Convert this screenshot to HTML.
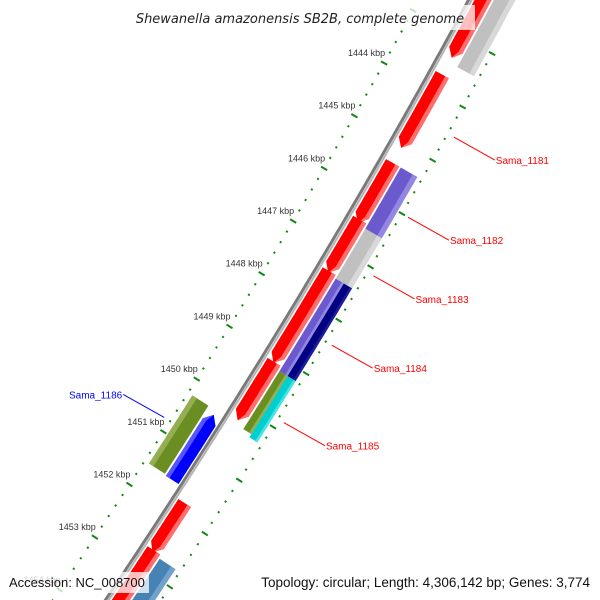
<!DOCTYPE html>
<html><head><meta charset="utf-8"><style>
html,body{margin:0;padding:0;background:#fff;width:600px;height:600px;overflow:hidden;}
svg{display:block;font-family:"Liberation Sans","DejaVu Sans",sans-serif;overflow:hidden;}
</style></head><body>
<svg id="map" width="600" height="600" viewBox="0 0 600 600" xmlns="http://www.w3.org/2000/svg">
<defs><clipPath id="clip"><rect width="600" height="600"/></clipPath></defs>
<rect width="600" height="600" fill="#fff"/>
<g clip-path="url(#clip)">
<g id="ticks"></g>
<g id="feats"></g>
<g id="labels"></g>
</g>
<rect x="125" y="5" width="350" height="25" fill="#fff" fill-opacity="0.75"/>
<text x="300" y="23" text-anchor="middle" font-size="13" font-style="italic" fill="#222" style="font-family:'DejaVu Sans',sans-serif">Shewanella amazonensis SB2B, complete genome</text>
<rect x="3" y="572" width="146" height="21" fill="#fff" fill-opacity="0.75"/>
<text x="9" y="587" font-size="13" fill="#111">Accession: NC_008700</text>
<text x="590" y="587" text-anchor="end" font-size="13.5" fill="#111">Topology: circular; Length: 4,306,142 bp; Genes: 3,774</text>
</svg>
<script>
// data (kbp)
const featStart=[1442.0,1443.70,1445.36,1446.43,1447.40,1449.11,1451.77,1452.66, 1442.0,1445.36,1446.51,1447.45,1447.45,1449.19,1449.19,1452.72, 1450.34,1450.26];
const featEnd  =[1443.38,1445.08,1446.49,1447.43,1449.13,1450.21,1452.70,1453.98, 1443.47,1446.51,1447.45,1449.19,1449.19,1450.28,1450.34,1453.80, 1451.57,1451.55];
const featRow  =["r1","r1","r1","r1","r1","r1","r1","r1", "r2","r2","r2","r2a","r2b","r2a","r2b","r2", "l1","l2"];
const featColor=["#ff0000","#ff0000","#ff0000","#ff0000","#ff0000","#ff0000","#ff0000","#ff0000",
 "#c0c0c0","#6a5acd","#c0c0c0","#6a5acd","#000080","#6b8e23","#00ced1","#4682b4", "#0000ff","#6b8e23"];
const featLight=["#ff8080","#ff8080","#ff8080","#ff8080","#ff8080","#ff8080","#ff8080","#ff8080",
 "#dcdcdc","#9a8fe6","#dcdcdc","#9a8fe6","#2020a0","#9ab55a","#50e8e8","#7aa8d0", "#6464ff","#9ab55a"];
const featArrow=[1,1,1,1,1,1,1,1, 0,0,0,0,0,0,0,0, -1,0];
const tickMajor=[1443,1444,1445,1446,1447,1448,1449,1450,1451,1452,1453,1454];
const tickLabels=["","1444 kbp","1445 kbp","1446 kbp","1447 kbp","1448 kbp","1449 kbp","1450 kbp","1451 kbp","1452 kbp","1453 kbp","1454 kbp"];
const geneNames=["Sama_1181","Sama_1182","Sama_1183","Sama_1184","Sama_1185","Sama_1186"];
const geneKbp=[1444.5,1446.0,1447.1,1448.4,1449.85,1450.8];
const geneSide=[1,1,1,1,1,-1];

const NS="http://www.w3.org/2000/svg";
function yOf(k){return 191+(k-1446)*53;}
function f(y){return 470-0.5393*y-0.0001095*y*y;}
function fp(y){return -0.5393-0.000219*y;}
function pt(k,d){const y=yOf(k),s=fp(y),n=Math.sqrt(1+s*s);return [f(y)+d/n, y-d*s/n];}
const rows={r1:[4,19],r2:[21,40],r2a:[21,30.5],r2b:[30.5,40],l1:[-4,-19],l2:[-21,-40]};
function mk(tag,attrs,parent){const e=document.createElementNS(NS,tag);for(const a in attrs)e.setAttribute(a,attrs[a]);parent.appendChild(e);return e;}
function band(k1,k2,d1,d2,arrow,tipK){
  const pts=[];const N=20;const tip=0.14;
  let a=k1,b=k2;
  if(arrow===1)b=k2-tip; if(arrow===-1)a=k1+tip;
  for(let i=0;i<=N;i++){pts.push(pt(a+(b-a)*i/N,d1));}
  if(arrow===1)pts.push(pt(k2,tipK));
  for(let i=N;i>=0;i--){pts.push(pt(a+(b-a)*i/N,d2));}
  if(arrow===-1)pts.push(pt(k1,tipK));
  return pts.map(p=>p[0].toFixed(1)+","+p[1].toFixed(1)).join(" ");
}
const bb=document.getElementById('ticks');
let p1=[],p2=[];
for(let k=1441;k<=1454.6;k+=0.1){const a=pt(k,-1.3),b=pt(k,1.5);p1.push(a[0].toFixed(1)+","+a[1].toFixed(1));p2.push(b[0].toFixed(1)+","+b[1].toFixed(1));}
const bl=mk('polyline',{points:p1.join(" "),fill:"none",stroke:"#7a7a7a","stroke-width":3},bb);


const bl2=mk('polyline',{points:p2.join(" "),fill:"none",stroke:"#b4b4b4","stroke-width":2},bb);


for(let i=0;i<tickMajor.length;i++){
  for(let j=0;j<5;j++){
    const k=tickMajor[i]+j*0.2;
    [1,-1].forEach(side=>{
      const len=j===0?3.5:1;
      const a=pt(k,side*(45-len)),b=pt(k,side*(45+len));
      const t=mk('line',{x1:a[0],y1:a[1],x2:b[0],y2:b[1],stroke:"#118811","stroke-width":2},bb);
      
      
    });
  }
  if(!tickLabels[i])continue;
  const c=pt(tickMajor[i],-45);
  const tx=mk('text',{x:(c[0]+1).toFixed(1),y:(c[1]-7).toFixed(1),"text-anchor":"end","font-size":"9",fill:"#333"},bb);
  tx.textContent=tickLabels[i];
  
  
}
const fg=document.getElementById('feats');
for(let i=0;i<featStart.length;i++){
  const r=rows[featRow[i]];
  const g=mk('g',{},fg);
  
  
  const tipD=(r[0]+r[1])/2;
  mk('polygon',{points:band(featStart[i],featEnd[i],r[0],r[1],featArrow[i],tipD),fill:featColor[i]},g);
  const lo=r[0]+(r[1]-r[0])*0.72, hi=r[1];
  mk('polygon',{points:band(featStart[i],featEnd[i],lo,hi,featArrow[i],tipD),fill:featLight[i],"fill-opacity":0.85},g);
}
const lg=document.getElementById('labels');
for(let i=0;i<geneNames.length;i++){
  const s=geneSide[i];
  const a=pt(geneKbp[i],s*52);
  const col=s>0?"#ff0000":"#0000ff";
  const bx=a[0]+s*41, by=a[1]+s*23;
  const ln=mk('line',{x1:a[0],y1:a[1],x2:bx,y2:by,stroke:col,"stroke-width":1},lg);
  
  
  const t=mk('text',{x:s>0?bx+1:bx-1,y:by+4,"text-anchor":s>0?"start":"end","font-size":"10",fill:col},lg);
  t.textContent=geneNames[i];
  
  
}
</script>
</body></html>
